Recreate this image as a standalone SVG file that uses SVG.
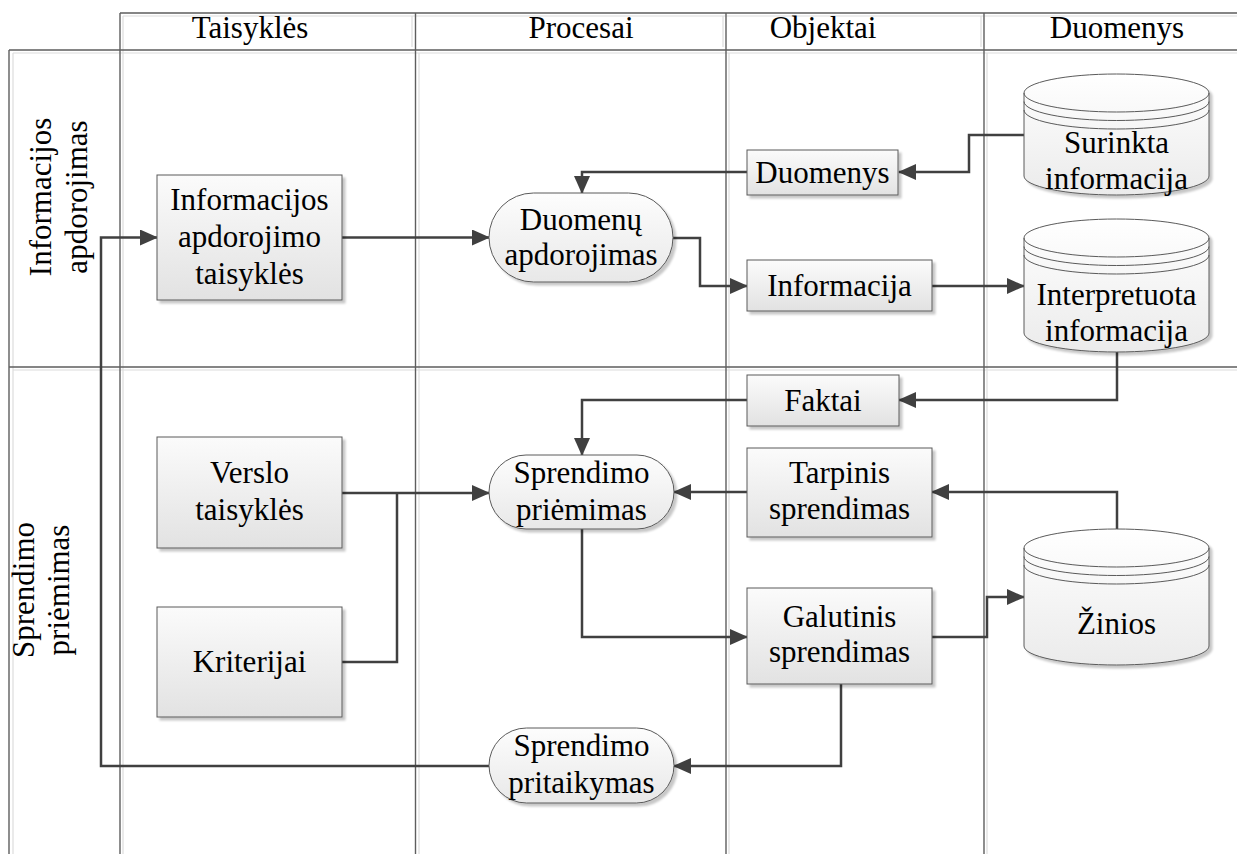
<svg xmlns="http://www.w3.org/2000/svg" width="1237" height="854" viewBox="0 0 1237 854">
  <defs>
    <linearGradient id="gBox" x1="0" y1="0" x2="0" y2="1">
      <stop offset="0" stop-color="#fbfbfb"/>
      <stop offset="1" stop-color="#e2e2e2"/>
    </linearGradient>
    <linearGradient id="gRound" x1="0" y1="0" x2="0" y2="1">
      <stop offset="0" stop-color="#fdfdfd"/>
      <stop offset="1" stop-color="#e8e8e8"/>
    </linearGradient>
    <linearGradient id="gCyl" x1="0" y1="0" x2="0" y2="1">
      <stop offset="0" stop-color="#ffffff"/>
      <stop offset="1" stop-color="#ebebeb"/>
    </linearGradient>
    <filter id="shadow" x="-10%" y="-10%" width="130%" height="130%">
      <feDropShadow dx="3" dy="3" stdDeviation="1.2" flood-color="#000" flood-opacity="0.22"/>
    </filter>
    <marker id="arrow" viewBox="0 0 18 16" refX="17" refY="8" markerWidth="18" markerHeight="16" markerUnits="userSpaceOnUse" orient="auto">
      <path d="M0,0 L18,8 L0,16 Z" fill="#404040"/>
    </marker>
  </defs>
  <style>
    .lbl { font-family: 'Liberation Serif', 'Times New Roman', Times, 'Noto Serif', 'DejaVu Serif', Tinos, serif; font-size: 31px; fill: #000; text-anchor: middle; }
    .lane-dark { stroke: #5e5e5e; stroke-width: 1.4; fill: none; }
    .lane-light { stroke: #dcdcdc; stroke-width: 1.2; fill: none; }
    .box { fill: url(#gBox); stroke: #5a5a5a; stroke-width: 1; filter: url(#shadow); }
    .round { fill: url(#gRound); stroke: #5a5a5a; stroke-width: 1; filter: url(#shadow); }
    .cyl { fill: url(#gCyl); stroke: #5a5a5a; stroke-width: 1; filter: url(#shadow); }
    .cyl-line { fill: none; stroke: #5a5a5a; stroke-width: 1; }
    .conn { fill: none; stroke: #404040; stroke-width: 2.5; }
  </style>
  <rect x="0" y="0" width="1237" height="854" fill="#ffffff"/>

  <!-- swimlane grid -->
  <g id="lanes">
    <path class="lane-light" d="M123,16 H1237 M13,53 H1237 M13,370 H1237 M13,53 V854 M123,16 V854 M412,16 V47 M419,53 V854 M723,16 V47 M729,53 V854 M981,16 V47 M987,53 V854"/>
    <path class="lane-dark" d="M120,13 H1237 M9,50 H1237 M9,367 H1237 M9,50 V854 M120,13 V854 M415.5,13 V854 M726,13 V854 M984,13 V854"/>
    <text class="lbl" x="250" y="38">Taisyklės</text>
    <text class="lbl" x="581" y="38">Procesai</text>
    <text class="lbl" x="823" y="38">Objektai</text>
    <text class="lbl" x="1117" y="38">Duomenys</text>
    <text class="lbl" transform="translate(51,197) rotate(-90)">Informacijos</text>
    <text class="lbl" transform="translate(87,197) rotate(-90)">apdorojimas</text>
    <text class="lbl" transform="translate(34,590) rotate(-90)">Sprendimo</text>
    <text class="lbl" transform="translate(69,590) rotate(-90)">priėmimas</text>
  </g>

  <!-- connectors -->
  <g id="connectors">
    <path class="conn" d="M1024,135 H969 V172 H899" marker-end="url(#arrow)"/>
    <path class="conn" d="M747,172 H582 V193" marker-end="url(#arrow)"/>
    <path class="conn" d="M342,237.5 H489" marker-end="url(#arrow)"/>
    <path class="conn" d="M673,238 H700 V286 H747" marker-end="url(#arrow)"/>
    <path class="conn" d="M932,286 H1024" marker-end="url(#arrow)"/>
    <path class="conn" d="M1117,352 V400 H899" marker-end="url(#arrow)"/>
    <path class="conn" d="M747,400 H582 V455" marker-end="url(#arrow)"/>
    <path class="conn" d="M342,493 H489" marker-end="url(#arrow)"/>
    <path class="conn" d="M342,662 H397 V493"/>
    <path class="conn" d="M747,492 H674" marker-end="url(#arrow)"/>
    <path class="conn" d="M1117,529 V492 H932" marker-end="url(#arrow)"/>
    <path class="conn" d="M582,529 V637 H747" marker-end="url(#arrow)"/>
    <path class="conn" d="M932,637 H987 V597 H1024" marker-end="url(#arrow)"/>
    <path class="conn" d="M841,684 V766 H674" marker-end="url(#arrow)"/>
    <path class="conn" d="M489,766 H101 V237.5 H157" marker-end="url(#arrow)"/>
  </g>

  <!-- Taisyklės column -->
  <g id="informacijos-taisykles">
    <rect class="box" x="157" y="175" width="185" height="125"/>
    <text class="lbl" x="249.5" y="210">Informacijos</text>
    <text class="lbl" x="249.5" y="247">apdorojimo</text>
    <text class="lbl" x="249.5" y="284">taisyklės</text>
  </g>
  <g id="verslo-taisykles">
    <rect class="box" x="157" y="437" width="185" height="111"/>
    <text class="lbl" x="249.5" y="483">Verslo</text>
    <text class="lbl" x="249.5" y="520">taisyklės</text>
  </g>
  <g id="kriterijai">
    <rect class="box" x="157" y="607" width="185" height="110"/>
    <text class="lbl" x="249.5" y="672">Kriterijai</text>
  </g>

  <!-- Procesai column -->
  <g id="duomenu-apdorojimas">
    <rect class="round" x="489" y="193" width="184" height="89" rx="44.5" ry="44.5"/>
    <text class="lbl" x="581" y="230">Duomenų</text>
    <text class="lbl" x="581" y="265">apdorojimas</text>
  </g>
  <g id="sprendimo-priemimas">
    <rect class="round" x="489" y="455" width="185" height="74" rx="37" ry="37"/>
    <text class="lbl" x="581.5" y="483">Sprendimo</text>
    <text class="lbl" x="581.5" y="520">priėmimas</text>
  </g>
  <g id="sprendimo-pritaikymas">
    <rect class="round" x="489" y="728" width="185" height="75" rx="37.5" ry="37.5"/>
    <text class="lbl" x="581.5" y="756">Sprendimo</text>
    <text class="lbl" x="581.5" y="793">pritaikymas</text>
  </g>

  <!-- Objektai column -->
  <g id="duomenys">
    <rect class="box" x="747" y="150" width="151" height="45"/>
    <text class="lbl" x="822.5" y="183">Duomenys</text>
  </g>
  <g id="informacija">
    <rect class="box" x="747" y="260" width="185" height="51"/>
    <text class="lbl" x="839.5" y="296">Informacija</text>
  </g>
  <g id="faktai">
    <rect class="box" x="747" y="375" width="152" height="51"/>
    <text class="lbl" x="823" y="411">Faktai</text>
  </g>
  <g id="tarpinis-sprendimas">
    <rect class="box" x="747" y="448" width="185" height="89"/>
    <text class="lbl" x="839.5" y="483">Tarpinis</text>
    <text class="lbl" x="839.5" y="519">sprendimas</text>
  </g>
  <g id="galutinis-sprendimas">
    <rect class="box" x="747" y="588" width="185" height="96"/>
    <text class="lbl" x="839.5" y="627">Galutinis</text>
    <text class="lbl" x="839.5" y="662">sprendimas</text>
  </g>

  <!-- Duomenys column (data stores) -->
  <g id="surinkta-informacija">
    <path class="cyl" d="M1024,93 V176 A92.5,19 0 0 0 1209,176 V93 A92.5,19 0 0 0 1024,93 Z"/>
    <path class="cyl-line" d="M1024,93 A92.5,19 0 0 0 1209,93 M1024,101.5 A92.5,19 0 0 0 1209,101.5 M1024,110 A92.5,19 0 0 0 1209,110"/>
    <text class="lbl" x="1116.5" y="153">Surinkta</text>
    <text class="lbl" x="1116.5" y="189">informacija</text>
  </g>
  <g id="interpretuota-informacija">
    <path class="cyl" d="M1024,238 V333 A92.5,19 0 0 0 1209,333 V238 A92.5,19 0 0 0 1024,238 Z"/>
    <path class="cyl-line" d="M1024,238 A92.5,19 0 0 0 1209,238 M1024,246.5 A92.5,19 0 0 0 1209,246.5 M1024,255 A92.5,19 0 0 0 1209,255"/>
    <text class="lbl" x="1116.5" y="305">Interpretuota</text>
    <text class="lbl" x="1116.5" y="341">informacija</text>
  </g>
  <g id="zinios">
    <path class="cyl" d="M1024,548 V646 A92.5,19 0 0 0 1209,646 V548 A92.5,19 0 0 0 1024,548 Z"/>
    <path class="cyl-line" d="M1024,548 A92.5,19 0 0 0 1209,548 M1024,556.5 A92.5,19 0 0 0 1209,556.5 M1024,565 A92.5,19 0 0 0 1209,565"/>
    <text class="lbl" x="1116.5" y="634">Žinios</text>
  </g>
</svg>
